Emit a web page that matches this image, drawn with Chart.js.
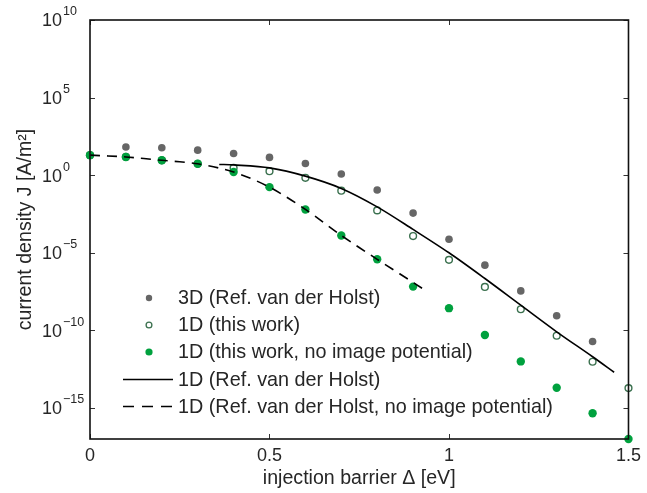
<!DOCTYPE html>
<html>
<head>
<meta charset="utf-8">
<script src="https://cdn.jsdelivr.net/npm/chart.js@4/dist/chart.umd.min.js"></script>
<style>
html,body{margin:0;padding:0;background:#fff;}
#wrap{width:647px;height:493px;}
</style>
</head>
<body>
<div id="wrap"><canvas id="c" width="647" height="493"></canvas></div>
<script>
// ---- data ----
const xPoints = [0, 0.1, 0.2, 0.3, 0.4, 0.5, 0.6, 0.7, 0.8, 0.9, 1.0, 1.1, 1.2, 1.3, 1.4, 1.5];

const x3D = [0.1, 0.2, 0.3, 0.4, 0.5, 0.6, 0.7, 0.8, 0.9, 1.0, 1.1, 1.2, 1.3, 1.4];
const j3D = [66, 58, 41, 25, 14, 5.6, 1.2, 0.11, 3.6e-3, 7.4e-5, 1.6e-6, 3.5e-8, 8.7e-10, 1.9e-11];

const j1D = [19.5, 15, 9.1, 5.4, 2.95, 1.8, 0.68, 0.10, 5.4e-3, 1.2e-4, 3.5e-6, 6.3e-8, 2.3e-9, 4.5e-11, 9.5e-13, 1.9e-14];

const j1DNoImage = [19.5, 15, 9.1, 5.4, 1.6, 0.17, 6.2e-3, 1.3e-4, 3.8e-6, 6.6e-8, 2.7e-9, 5.0e-11, 1.0e-12, 2.0e-14, 4.6e-16, 1e-17];

const xRefLine = [0.36, 0.4, 0.5, 0.6, 0.7, 0.8, 0.9, 1.0, 1.1, 1.2, 1.3, 1.4, 1.46];
const jRefLine = [4.9, 4.6, 2.95, 0.87, 0.14, 9.1e-3, 3.2e-4, 1.0e-5, 2.2e-7, 4.2e-9, 8.1e-11, 2.0e-12, 2.0e-13];

const xRefDashed = [0, 0.1, 0.2, 0.3, 0.4, 0.5, 0.6, 0.7, 0.8, 0.925];
const jRefDashed = [19.5, 15, 9.1, 5.4, 1.6, 0.17, 6.2e-3, 1.3e-4, 3.8e-6, 5.2e-8];

const xTicks = [0, 0.5, 1, 1.5];
const xTickLabels = ['0', '0.5', '1', '1.5'];
const yTickExponents = [-15, -10, -5, 0, 5, 10];

const seriesLabels = [
  '3D (Ref. van der Holst)',
  '1D (this work)',
  '1D (this work, no image potential)',
  '1D (Ref. van der Holst)',
  '1D (Ref. van der Holst, no image potential)'
];

// ---- styling ----
const GRAY = 'rgb(102,102,102)';
const GREEN = 'rgb(0,161,62)';
const OPEN_EDGE = 'rgb(58,112,78)';
const TEXT = '#262626';
const FONT = '"Liberation Sans", Arial, Helvetica, sans-serif';

const pairs = (xs, ys) => xs.map((x, i) => ({x: x, y: ys[i]}));

const datasets = [
  {label: seriesLabels[3], data: pairs(xRefLine, jRefLine), showLine: true, borderColor: '#000', borderWidth: 1.6,
   pointRadius: 0, tension: 0.3, order: 0, clip: false},
  {label: seriesLabels[4], data: pairs(xRefDashed, jRefDashed), showLine: true, borderColor: '#000', borderWidth: 1.6,
   borderDash: [10, 7], pointRadius: 0, tension: 0.3, order: 0, clip: false},
  {label: seriesLabels[2], data: pairs(xPoints, j1DNoImage), showLine: false, pointRadius: 4.2,
   backgroundColor: GREEN, borderColor: GREEN, borderWidth: 0, order: 1, clip: false},
  {label: seriesLabels[1], data: pairs(xPoints, j1D), showLine: false, pointRadius: 3.4,
   backgroundColor: '#fff', borderColor: OPEN_EDGE, borderWidth: 1.4, order: 2, clip: false},
  {label: seriesLabels[0], data: pairs(x3D, j3D), showLine: false, pointRadius: 3.8,
   backgroundColor: GRAY, borderColor: GRAY, borderWidth: 0, order: 3, clip: false}
];

const framePlugin = {
  id: 'frame',
  afterDraw(chart) {
    const ctx = chart.ctx;
    const a = chart.chartArea;
    const xs = chart.scales.x, ys = chart.scales.y;
    ctx.save();
    // inward ticks
    ctx.strokeStyle = '#333';
    ctx.lineWidth = 1;
    const tl = 5;
    xTicks.forEach(v => {
      const px = Math.round(xs.getPixelForValue(v)) + 0.5;
      ctx.beginPath();
      ctx.moveTo(px, a.bottom); ctx.lineTo(px, a.bottom - tl);
      ctx.moveTo(px, a.top); ctx.lineTo(px, a.top + tl);
      ctx.stroke();
    });
    yTickExponents.forEach(e => {
      const py = Math.round(ys.getPixelForValue(Math.pow(10, e))) + 0.5;
      ctx.beginPath();
      ctx.moveTo(a.left, py); ctx.lineTo(a.left + tl, py);
      ctx.moveTo(a.right, py); ctx.lineTo(a.right - tl, py);
      ctx.stroke();
    });
    // frame
    ctx.strokeStyle = '#111';
    ctx.lineWidth = 1.6;
    ctx.strokeRect(a.left, a.top, a.right - a.left, a.bottom - a.top);

    // y tick labels with superscript exponents
    ctx.fillStyle = TEXT;
    ctx.textAlign = 'left';
    ctx.textBaseline = 'middle';
    yTickExponents.forEach(e => {
      const py = ys.getPixelForValue(Math.pow(10, e));
      ctx.font = '18px ' + FONT;
      ctx.fillText('10', 42, py + 1.5);
      const w = ctx.measureText('10').width;
      ctx.font = '12.5px ' + FONT;
      ctx.fillText(e < 0 ? '\u2212' + Math.abs(e) : String(e), 42 + w + 1, py - 8);
    });

    // legend
    const lx = 123, mx = 149, tx = 178;
    const rows = [298, 325, 352, 379.5, 406.5];
    ctx.font = '19.8px ' + FONT;
    ctx.textBaseline = 'middle';
    rows.forEach((ry, i) => {
      ctx.fillStyle = TEXT;
      ctx.fillText(seriesLabels[i], tx, ry + 1);
    });
    // markers
    ctx.fillStyle = GRAY;
    ctx.beginPath(); ctx.arc(mx, rows[0], 3.2, 0, Math.PI * 2); ctx.fill();
    ctx.fillStyle = '#fff'; ctx.strokeStyle = OPEN_EDGE; ctx.lineWidth = 1.3;
    ctx.beginPath(); ctx.arc(mx, rows[1], 2.9, 0, Math.PI * 2); ctx.fill(); ctx.stroke();
    ctx.fillStyle = GREEN;
    ctx.beginPath(); ctx.arc(mx, rows[2], 3.6, 0, Math.PI * 2); ctx.fill();
    ctx.strokeStyle = '#000'; ctx.lineWidth = 1.6;
    ctx.beginPath(); ctx.moveTo(lx, rows[3]); ctx.lineTo(lx + 50, rows[3]); ctx.stroke();
    ctx.setLineDash([11, 8]);
    ctx.beginPath(); ctx.moveTo(lx, rows[4]); ctx.lineTo(lx + 50, rows[4]); ctx.stroke();
    ctx.setLineDash([]);
    ctx.restore();
  }
};

new Chart(document.getElementById('c'), {
  type: 'scatter',
  data: {datasets: datasets},
  options: {
    responsive: false,
    animation: false,
    layout: {padding: {top: 20, right: 14, left: 0, bottom: 0}},
    plugins: {legend: {display: false}, tooltip: {enabled: false}},
    scales: {
      x: {
        type: 'linear', min: 0, max: 1.5,
        afterBuildTicks: s => { s.ticks = xTicks.map(v => ({value: v})); },
        afterFit: s => { s.height = 54; },
        grid: {display: false, drawTicks: false},
        border: {display: false},
        ticks: {
          font: {family: FONT, size: 18}, color: TEXT, padding: 6,
          callback: (v) => { const i = xTicks.indexOf(v); return i >= 0 ? xTickLabels[i] : ''; }
        },
        title: {display: true, text: 'injection barrier \u0394 [eV]', color: TEXT,
                font: {family: FONT, size: 19.6}, padding: {top: 0, bottom: 3}}
      },
      y: {
        type: 'logarithmic', min: 1e-17, max: 1e10,
        afterBuildTicks: s => { s.ticks = yTickExponents.map(e => ({value: Math.pow(10, e)})); },
        afterFit: s => { s.width = 90; },
        grid: {display: false, drawTicks: false},
        border: {display: false},
        ticks: {display: false},
        title: {display: true, text: 'current density J [A/m\u00B2]', color: TEXT,
                font: {family: FONT, size: 19.6}, padding: {top: 14, bottom: 0}}
      }
    }
  },
  plugins: [framePlugin]
});
</script>
</body>
</html>
